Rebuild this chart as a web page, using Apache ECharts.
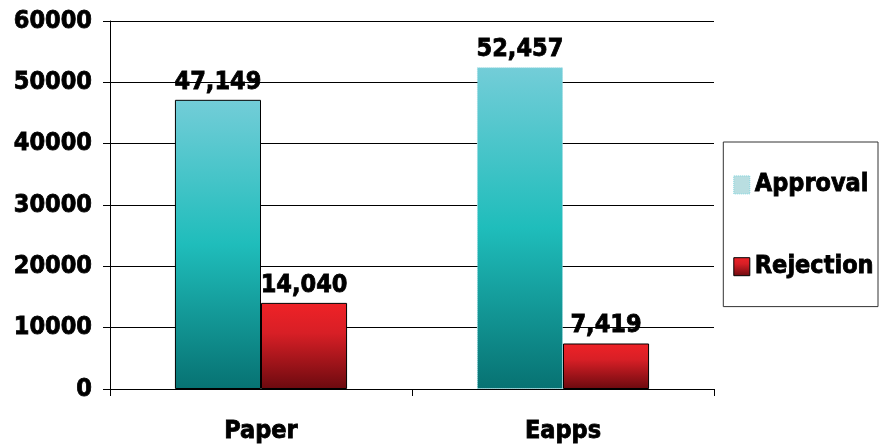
<!DOCTYPE html>
<html><head><meta charset="utf-8">
<script src="https://cdn.jsdelivr.net/npm/echarts@6/dist/echarts.min.js"></script>
<style>html,body{margin:0;padding:0;background:#fff}#c{width:880px;height:447px}</style>
</head><body><div id="c"></div>
<script>
const categories = ['Paper', 'Eapps'];
const approval = [47149, 52457];
const rejection = [14040, 7419];
const yTicks = [0, 10000, 20000, 30000, 40000, 50000, 60000];

const FONT = '"DejaVu Sans Condensed", "DejaVu Sans"';
const FS = 25;
const heavy = {fontFamily: FONT, fontWeight: 'bold', fontSize: FS, color: '#000',
  textBorderColor: '#000', textBorderWidth: 0.8};
const tealGrad = new echarts.graphic.LinearGradient(0, 0, 0, 1, [
  {offset: 0, color: '#73CDD8'},
  {offset: 0.5, color: '#1FBDBB'},
  {offset: 1, color: '#077272'}
]);
const redGrad = new echarts.graphic.LinearGradient(0, 0, 0, 1, [
  {offset: 0, color: '#EF2227'},
  {offset: 0.35, color: '#D81F26'},
  {offset: 1, color: '#6C0A0F'}
]);
const fmt = v => v.value.toLocaleString('en-US');
const labelStyle = Object.assign({show: true, position: 'top', distance: 5, formatter: fmt}, heavy);

const chart = echarts.init(document.getElementById('c'), null, {renderer: 'canvas'});
chart.setOption({
  animation: false,
  grid: {left: 110, right: 166, top: 21, bottom: 58, containLabel: false},
  legend: {
    orient: 'vertical', right: 2, top: 142, icon: 'rect',
    padding: [30, 4, 27, 10], itemGap: 56, itemWidth: 16, itemHeight: 18, itemTextGap: 8,
    borderColor: '#333', borderWidth: 1,
    textStyle: Object.assign({lineHeight: 24}, heavy),
    data: [
      {name: 'Approval', itemStyle: {color: '#B9DEE1', borderColor: '#7FD3DC', borderType: 'dotted', borderWidth: 1}},
      {name: 'Rejection', itemStyle: {color: redGrad, borderColor: '#000', borderWidth: 1}}
    ]
  },
  xAxis: {
    type: 'category', data: categories,
    axisLine: {lineStyle: {color: '#000', width: 1}},
    axisTick: {show: true, length: 7, lineStyle: {color: '#000'}},
    axisLabel: Object.assign({margin: 30}, heavy)
  },
  yAxis: {
    type: 'value', min: 0, max: 60000, interval: 10000,
    axisLine: {show: true, lineStyle: {color: '#000', width: 1}},
    axisTick: {show: true, length: 7, inside: false, lineStyle: {color: '#000'}},
    splitLine: {show: true, lineStyle: {color: '#000', width: 1}},
    axisLabel: Object.assign({margin: 18, formatter: v => yTicks.includes(v) ? String(v) : ''}, heavy)
  },
  series: [
    {name: 'Approval', type: 'bar', barGap: '0%', barCategoryGap: '43%',
     itemStyle: {color: tealGrad, borderColor: '#000', borderWidth: 1},
     label: labelStyle,
     data: approval.map((v, i) => i === 1 ? {value: v, itemStyle: {borderColor: '#9EDCE3', borderType: 'dotted', borderWidth: 1}} : {value: v})},
    {name: 'Rejection', type: 'bar', barGap: '0%', barCategoryGap: '43%',
     itemStyle: {color: redGrad, borderColor: '#000', borderWidth: 1},
     label: labelStyle,
     data: rejection.map(v => ({value: v}))}
  ]
});
</script></body></html>
